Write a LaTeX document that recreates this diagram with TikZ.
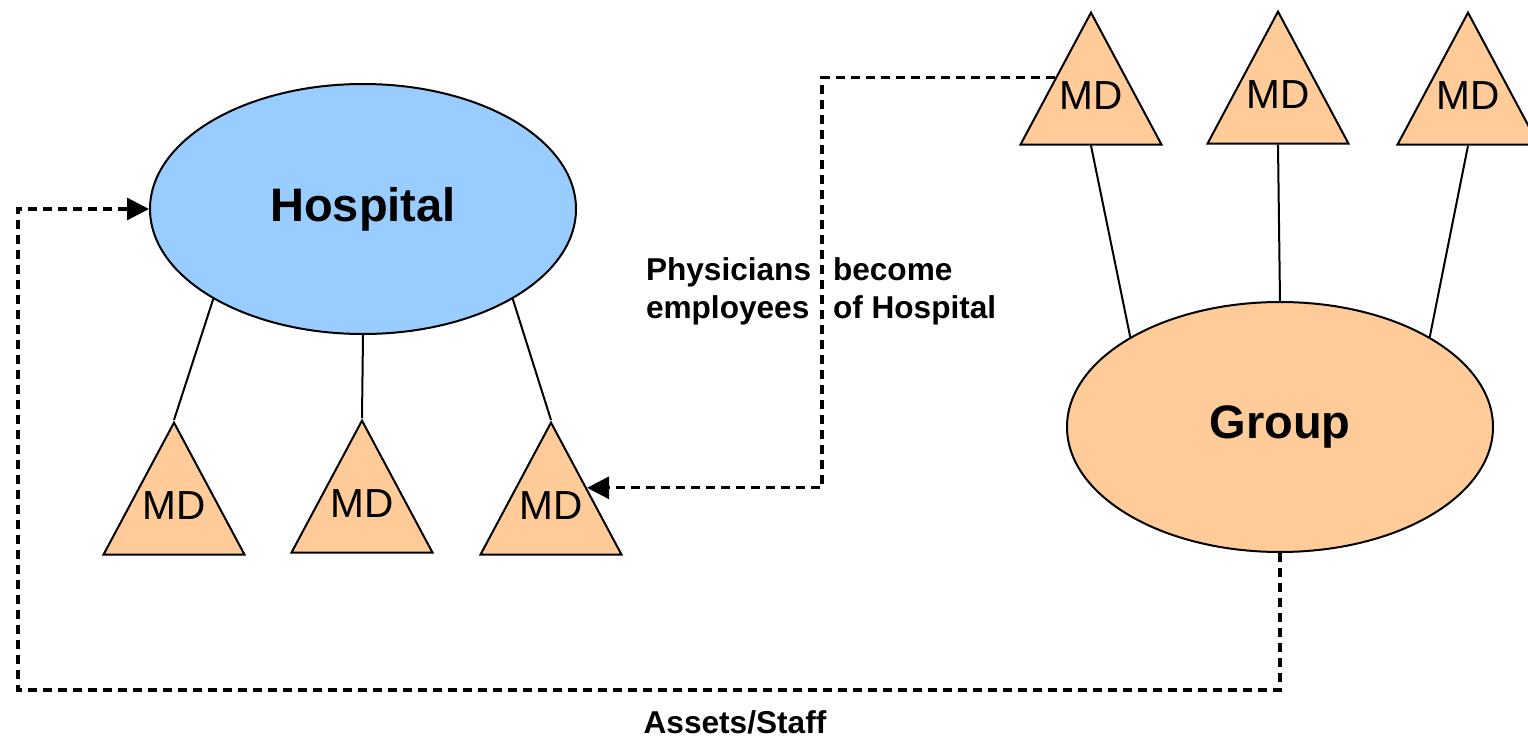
\documentclass[tikz,border=0pt]{standalone}
\usepackage{fontspec}
\setmainfont{Liberation Sans}
\usetikzlibrary{shapes.geometric,arrows.meta}
\definecolor{peach}{HTML}{FFCC99}
\definecolor{sky}{HTML}{99CCFF}

\begin{document}
\begin{tikzpicture}[x=0.5pt,y=-0.5pt,line width=1pt,
    md/.style={isosceles triangle,shape border rotate=90,isosceles triangle stretches,
      minimum width=70.5pt,minimum height=66pt,inner sep=0pt,text height=11pt,text depth=13.6pt,
      draw,fill=peach,anchor=apex,font=\fontsize{20.3}{24}\selectfont},
    blob/.style={ellipse,draw,minimum width=213pt,minimum height=125pt,inner sep=0pt,
      font=\bfseries\fontsize{23.5}{28}\selectfont},
    link/.style={line width=1.6pt,dash pattern=on 4.5pt off 3pt,-{Triangle[length=11pt,width=11pt]}},
    lbl/.style={align=left,inner sep=0pt,font=\bfseries\fontsize{15.8}{19}\selectfont}]
    \useasboundingbox (0,0) rectangle (1528,739);
    % hospital side
    \node[blob,fill=sky] (hosp) at (363,209) {Hospital};
    \node[md] (mdb1) at (174,420) {MD};
    \node[md] (mdb2) at (362,418) {MD};
    \node[md] (mdb3) at (551,420) {MD};
    % group side
    \node[blob,fill=peach] (group) at (1280,427) {Group};
    \node[md] (mdt1) at (1091,10) {MD};
    \node[md] (mdt2) at (1278,9) {MD};
    \node[md] (mdt3) at (1468,10) {MD};
    \draw (hosp.211) -- (mdb1.apex)
          (hosp.south) -- (mdb2.apex)
          (hosp.329) -- (mdb3.apex)
          (group.149) -- (mdt1.lower side)
          (group.north) -- (mdt2.lower side)
          (group.31) -- (mdt3.lower side);
    % dashed transfers
    \coordinate (bend) at (822,300);
    \coordinate (corner) at (18,690);
    \draw[link] (mdt1.left side) -| (bend) |- (mdb3.right side);
    \draw[link] (group.south) |- (corner) |- (hosp.west);
    \node[lbl,anchor=west] (phys) at (645,291) {Physicians\\employees};
    \node[lbl,anchor=west] (becom) at (832,291) {become\\of Hospital};
    \node[lbl] (assets) at (735,722) {Assets/Staff};
\end{tikzpicture}
\end{document}
